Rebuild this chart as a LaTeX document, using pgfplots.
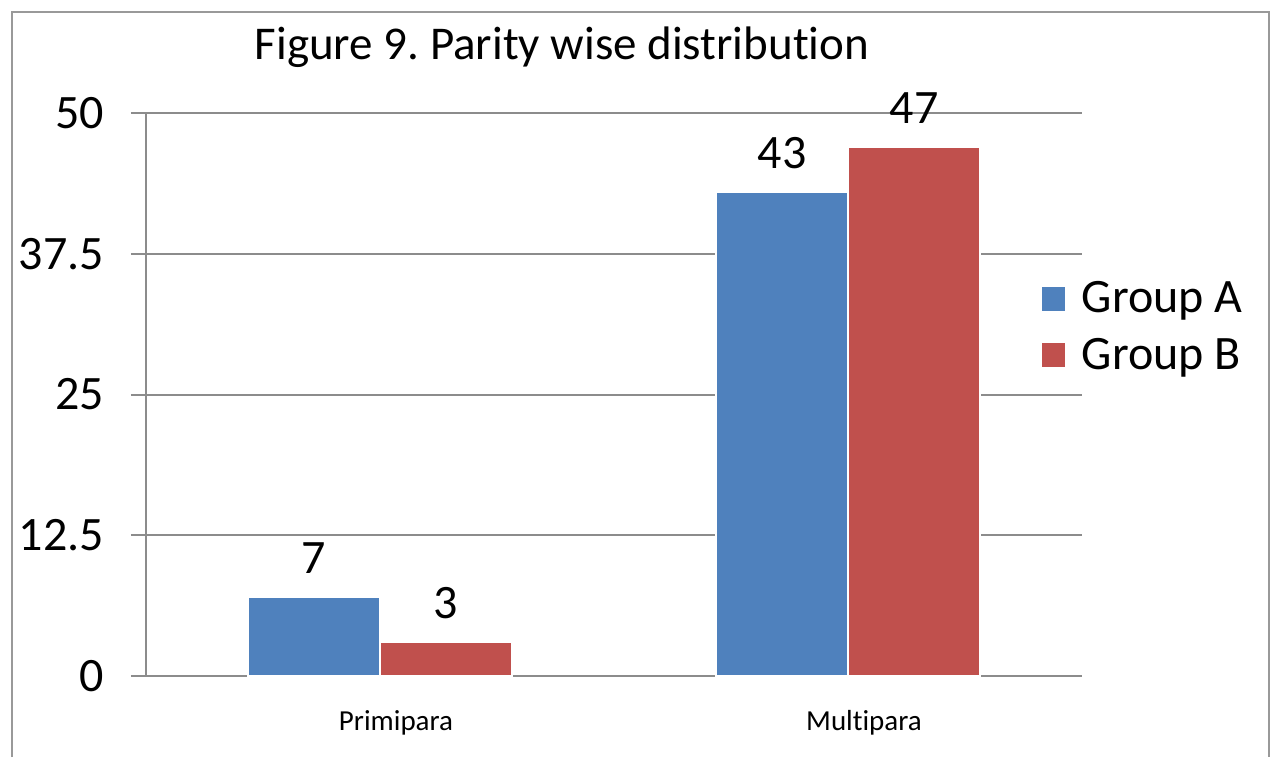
\documentclass[border=0pt]{standalone}
\usepackage{pgfplots}
\pgfplotsset{compat=1.18}
\usepackage{fontspec}
\setmainfont{Carlito}[Ligatures=NoCommon]
\definecolor{cA}{HTML}{4F81BD}
\definecolor{cB}{HTML}{C0504D}
\definecolor{gridc}{HTML}{8C8C8C}
\definecolor{framec}{HTML}{999999}
\frenchspacing
\begin{document}
\begin{tikzpicture}
\useasboundingbox (0,0) rectangle (635.5pt,-378.5pt);
\draw[framec, line width=1pt] (6pt,-378.5pt) -- (6pt,-5.75pt) -- (634.5pt,-5.75pt) -- (634.5pt,-378.5pt);
\node[font=\fontsize{23.5}{28}\selectfont] at (281pt,-23.5pt) {Figure 9. Parity wise distribution};
\begin{axis}[
  at={(73pt,-338pt)}, anchor=south west,
  scale only axis, width=468pt, height=281.5pt,
  xmin=-0.5, xmax=1.5, ymin=0, ymax=50,
  ybar=0pt, bar width=66pt,
  axis x line*=bottom, axis y line*=left,
  axis line style={gridc, line width=1pt, -},
  xtick={0,1}, xticklabels={Primipara,Multipara},
  xtick style={draw=none},
  xticklabel style={font=\fontsize{14.5}{17}\selectfont, xshift=8pt, yshift=-6pt},
  ytick={0,12.5,25,37.5,50}, yticklabels={0,12.5,25,37.5,50},
  tick align=outside, major tick length=7.5pt,
  ytick style={gridc, line width=1pt},
  yticklabel style={font=\fontsize{24}{28}\selectfont, xshift=-10pt},
  /pgf/number format/assume math mode=true,
  ymajorgrids, grid style={gridc, line width=1pt},
  nodes near coords,
  nodes near coords style={font=\fontsize{24}{28}\selectfont, anchor=south, yshift=8pt},
  legend style={at={(0.955,0.62)}, anchor=west, draw=none, fill=none,
    font=\fontsize{24}{28}\selectfont, row sep=7pt, inner sep=0pt},
  legend cell align=left,
  legend image code/.code={\fill[#1] (0pt,-6.25pt) rectangle (12.5pt,6.25pt); \path (18pt,0pt);},
]
\addplot[fill=cA, draw=white, line width=0.75pt] coordinates {(0,7) (1,43)};
\addplot[fill=cB, draw=white, line width=0.75pt] coordinates {(0,3) (1,47)};
\legend{Group A, Group B}
\end{axis}
\end{tikzpicture}
\end{document}
